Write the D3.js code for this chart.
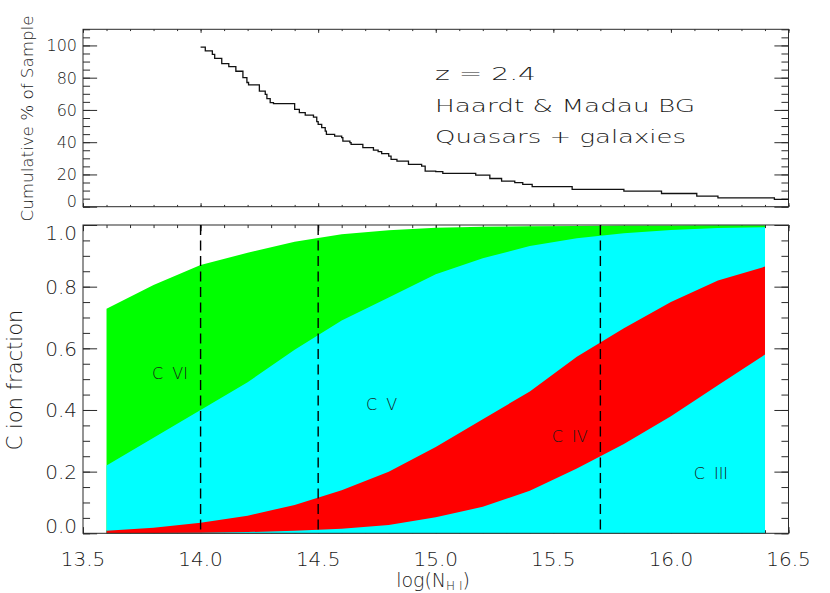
<!DOCTYPE html>
<html>
<head>
<meta charset="utf-8">
<script src="https://cdn.jsdelivr.net/npm/d3@7"></script>
<style>
  html, body { margin: 0; padding: 0; background: #fff; }
  svg { display: block; }
  text { font-family: "DejaVu Sans", sans-serif; font-weight: 200; fill: #1a1a1a; }
</style>
</head>
<body>
<svg id="chart" width="830" height="593"></svg>
<script>
// ---------------- data ----------------
// top panel: cumulative % of sample (step curve)
const stepLogN = [14.00, 14.02, 14.05, 14.06, 14.09, 14.12, 14.15, 14.18, 14.197, 14.204,
  14.25, 14.275, 14.282, 14.296, 14.31, 14.40, 14.42, 14.445, 14.48, 14.494,
  14.50, 14.515, 14.53, 14.535, 14.57, 14.60, 14.605, 14.635, 14.64, 14.69,
  14.735, 14.755, 14.77, 14.80, 14.81, 14.835, 14.884, 14.94, 14.955, 15.0,
  15.03, 15.17, 15.23, 15.28, 15.336, 15.37, 15.41, 15.58, 15.80, 15.96,
  16.11, 16.20, 16.44, 16.5];
const stepPct = [99, 96.6, 94.5, 92, 88.7, 86.8, 84, 80, 77, 75.5,
  71.7, 69.7, 67, 64.5, 63.9, 60.3, 58.3, 56.8, 55.5, 52.7,
  51, 49, 46.9, 44.8, 43.8, 42.8, 40.7, 39.7, 38.7, 36.6,
  35.1, 34.1, 32.9, 31.4, 29.4, 28.3, 26.3, 25.2, 22.1, 21.7,
  20.7, 19.6, 17.5, 15.9, 14.9, 13.8, 12.4, 10.7, 9.6, 8.2,
  6.5, 5.5, 4.5, 4.5];

// bottom panel: carbon ion fractions vs log N(HI)
const logNHI = [13.6, 13.8, 14.0, 14.2, 14.4, 14.6, 14.8, 15.0, 15.2, 15.4, 15.6, 15.8, 16.0, 16.2, 16.4];
const fracCIII = [0.000, 0.001, 0.002, 0.004, 0.008, 0.015, 0.027, 0.052, 0.086, 0.138, 0.210, 0.290, 0.380, 0.480, 0.580];
const fracCIV  = [0.008, 0.017, 0.032, 0.053, 0.084, 0.125, 0.173, 0.228, 0.284, 0.322, 0.363, 0.375, 0.370, 0.340, 0.285];
const fracCV   = [0.212, 0.292, 0.366, 0.433, 0.503, 0.550, 0.565, 0.560, 0.522, 0.472, 0.384, 0.308, 0.234, 0.170, 0.128];
const fracCVI  = [0.508, 0.495, 0.470, 0.420, 0.351, 0.280, 0.218, 0.151, 0.102, 0.064, 0.040, 0.025, 0.014, 0.009, 0.006];

const ionKeys   = ["CIII", "CIV", "CV", "CVI"];
const ionColors = { CIII: "#00ffff", CIV: "#ff0000", CV: "#00ffff", CVI: "#00ff00" };
const ionLabels = [
  { text: "C VI",  x: 13.87, y: 0.50 },
  { text: "C V",   x: 14.77, y: 0.40 },
  { text: "C IV",  x: 15.57, y: 0.297 },
  { text: "C III", x: 16.17, y: 0.176 }
];
const dashedLogN = [14.0, 14.5, 15.7];

const xMajor = [13.5, 14.0, 14.5, 15.0, 15.5, 16.0, 16.5];
const xMinor = d3.range(135, 166).map(v => v / 10);
const yTopMajor = [0, 20, 40, 60, 80, 100];
const yTopMinor = d3.range(0, 111, 5);
const yBotMajor = [0, 0.2, 0.4, 0.6, 0.8, 1.0];
const yBotMinor = d3.range(0, 21).map(v => v / 20);

const annot = ["z = 2.4", "Haardt & Madau BG", "Quasars + galaxies"];

// ---------------- layout ----------------
const L = 83, R = 788.5;
const topT = 29.3, topB = 206.7;
const botT = 225, botB = 533.3;

const svg = d3.select("#chart");
const x = d3.scaleLinear([13.5, 16.5], [L, R]);
const yTop = d3.scaleLinear([0, 110], [topB, topT]);
const yBot = d3.scaleLinear([0, 1], [botB, botT]);

const axisColor = "#2a2a2a";

function drawTicks(g, yScale, yMaj, yMin, top, bottom) {
  const h = bottom - top, w = R - L;
  const xMajLen = 0.02 * h, yMajLen = 0.02 * w;
  const addAxis = (axis, transform) => {
    const a = g.append("g").attr("transform", transform).call(axis);
    a.select(".domain").remove();
    a.selectAll("line").attr("stroke", axisColor).attr("stroke-width", 1);
    a.selectAll("text").remove();
  };
  addAxis(d3.axisBottom(x).tickValues(xMinor).tickSize(-xMajLen / 2), `translate(0,${bottom})`);
  addAxis(d3.axisBottom(x).tickValues(xMajor).tickSize(-xMajLen), `translate(0,${bottom})`);
  addAxis(d3.axisTop(x).tickValues(xMinor).tickSize(-xMajLen / 2), `translate(0,${top})`);
  addAxis(d3.axisTop(x).tickValues(xMajor).tickSize(-xMajLen), `translate(0,${top})`);
  addAxis(d3.axisLeft(yScale).tickValues(yMin).tickSize(-yMajLen / 2), `translate(${L},0)`);
  addAxis(d3.axisLeft(yScale).tickValues(yMaj).tickSize(-yMajLen), `translate(${L},0)`);
  addAxis(d3.axisRight(yScale).tickValues(yMin).tickSize(-yMajLen / 2), `translate(${R},0)`);
  addAxis(d3.axisRight(yScale).tickValues(yMaj).tickSize(-yMajLen), `translate(${R},0)`);
}
function drawFrame(g, top, bottom) {
  g.append("rect").attr("x", L).attr("y", top).attr("width", R - L).attr("height", bottom - top)
    .attr("fill", "none").attr("stroke", axisColor).attr("stroke-width", 1);
}
function yLabels(g, yScale, vals, fmt, size, top, bottom) {
  const capH = 0.729 * size;
  vals.forEach(v => {
    const py = yScale(v);
    let base = py + capH / 2;
    if (Math.abs(py - bottom) < 1) base = bottom;
    if (Math.abs(py - top) < 1) base = top + capH;
    g.append("text").attr("x", L - 6).attr("y", base)
      .attr("text-anchor", "end").attr("font-size", size).text(fmt(v));
  });
}

// ---------------- top panel ----------------
const gTop = svg.append("g");
drawTicks(gTop, yTop, yTopMajor, yTopMinor, topT, topB);
drawFrame(gTop, topT, topB);
yLabels(gTop, yTop, yTopMajor, d3.format("d"), 16, topT, topB);

const stepData = stepLogN.map((v, i) => [v, stepPct[i]]);
gTop.append("path")
  .datum(stepData)
  .attr("fill", "none").attr("stroke", "#111").attr("stroke-width", 1.3)
  .attr("d", d3.line().x(d => x(d[0])).y(d => yTop(d[1])).curve(d3.curveStepAfter));

const annotLen = [101, 260, 251];
annot.forEach((t, i) => {
  gTop.append("text").attr("x", 435).attr("y", 80 + i * 31.7)
    .attr("font-size", 18.3)
    .attr("textLength", annotLen[i]).attr("lengthAdjust", "spacingAndGlyphs")
    .text(t);
});

gTop.append("text")
  .attr("transform", `translate(33,118.5) rotate(-90)`)
  .attr("text-anchor", "middle").attr("font-size", 16.5)
  .attr("textLength", 206).attr("lengthAdjust", "spacingAndGlyphs")
  .text("Cumulative % of Sample");

// ---------------- bottom panel ----------------
const gBot = svg.append("g");
drawTicks(gBot, yBot, yBotMajor, yBotMinor, botT, botB);

const table = logNHI.map((n, i) => ({
  logN: n, CIII: fracCIII[i], CIV: fracCIV[i], CV: fracCV[i], CVI: fracCVI[i]
}));
const stacked = d3.stack().keys(ionKeys)(table);
const area = d3.area()
  .x(d => x(d.data.logN))
  .y0(yBot(0))
  .y1(d => yBot(d[1]));
stacked.slice().reverse().forEach(layer => {
  gBot.append("path").datum(layer)
    .attr("fill", ionColors[layer.key]).attr("stroke", "none")
    .attr("d", area);
});

drawFrame(gBot, botT, botB);

dashedLogN.forEach(v => {
  gBot.append("line")
    .attr("x1", x(v)).attr("x2", x(v)).attr("y1", botT).attr("y2", botB)
    .attr("stroke", "#000").attr("stroke-width", 1.4).attr("stroke-dasharray", "10,5.5");
});

ionLabels.forEach(l => {
  gBot.append("text").attr("x", x(l.x)).attr("y", yBot(l.y))
    .attr("text-anchor", "middle").attr("font-size", 16)
    .attr("word-spacing", 4)
    .text(l.text);
});

yLabels(gBot, yBot, yBotMajor, d3.format(".1f"), 20, botT, botB);

xMajor.forEach(v => {
  gBot.append("text").attr("x", x(v)).attr("y", 566)
    .attr("text-anchor", "middle").attr("font-size", 20)
    .text(d3.format(".1f")(v));
});

const xl = gBot.append("text").attr("x", 433).attr("y", 587)
  .attr("text-anchor", "middle").attr("font-size", 19);
xl.append("tspan").text("log(N");
xl.append("tspan").attr("font-size", 12).attr("dy", 3).text("H I");
xl.append("tspan").attr("dy", -3).text(")");

gBot.append("text")
  .attr("transform", `translate(22,380) rotate(-90)`)
  .attr("text-anchor", "middle").attr("font-size", 21)
  .text("C ion fraction");
</script>
</body>
</html>
